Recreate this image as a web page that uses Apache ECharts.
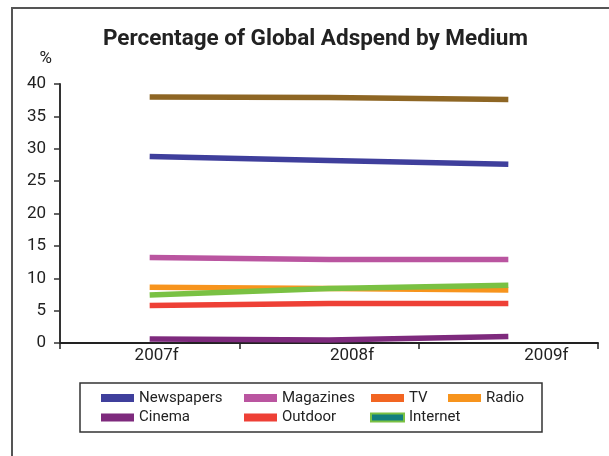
<!DOCTYPE html>
<html>
<head>
<meta charset="utf-8">
<script src="https://cdn.jsdelivr.net/npm/echarts@6/dist/echarts.min.js"></script>
<style>
  html, body { margin: 0; padding: 0; background: #fff; }
  #chart { width: 609px; height: 456px; }
</style>
</head>
<body>
<div id="chart"></div>
<script>
// Share of global advertising expenditure by medium (%)
const years = ['2007f', '2008f', '2009f'];
const newspapers = [28.8, 28.2, 27.6];
const magazines = [13.2, 12.9, 12.9];
const tv = [38.0, 37.9, 37.6];
const radio = [8.6, 8.4, 8.2];
const cinema = [0.6, 0.45, 1.0];
const outdoor = [5.8, 6.1, 6.1];
const internet = [7.4, 8.4, 8.9];
const yTicks = { min: 0, max: 40, step: 5 };

const FONT = 'Roboto, "Liberation Sans", Arial, sans-serif';

function lineSeries(name, data, color) {
  return {
    name: name,
    type: 'line',
    data: data,
    showSymbol: false,
    symbol: 'none',
    itemStyle: { color: color },
    lineStyle: { color: color, width: 5.5 },
    emphasis: { disabled: true },
    silent: true
  };
}

function legendColumn(left, items) {
  return {
    orient: 'vertical',
    left: left,
    top: 390,
    padding: 0,
    itemGap: 3.5,
    itemWidth: 33,
    itemHeight: 8,
    icon: 'rect',
    selectedMode: false,
    textStyle: { fontFamily: FONT, fontSize: 15, color: '#222', lineHeight: 16 },
    data: items
  };
}

const chart = echarts.init(document.getElementById('chart'), null, { renderer: 'canvas' });

chart.setOption({
  animation: false,
  backgroundColor: '#ffffff',
  title: {
    text: 'Percentage of Global Adspend by Medium',
    left: 103,
    top: 28,
    padding: 0,
    textStyle: { fontFamily: FONT, fontSize: 22.5, fontWeight: 'bold', color: '#222' }
  },
  grid: { left: 60, right: 11, top: 84, bottom: 113 },
  xAxis: {
    type: 'category',
    data: years,
    boundaryGap: true,
    axisLine: { lineStyle: { color: '#222', width: 2 } },
    axisTick: { show: true, length: 6, lineStyle: { color: '#222', width: 1.5 } },
    axisLabel: {
      margin: 4,
      color: '#222',
      fontFamily: FONT,
      fontSize: 17,
      formatter: function (v, i) { return '{c' + i + '|' + v + '}'; },
      rich: {
        c0: { fontFamily: FONT, fontSize: 17, color: '#222', padding: [0, 0, 0, 14] },
        c1: { fontFamily: FONT, fontSize: 17, color: '#222', padding: [0, 0, 0, 46] },
        c2: { fontFamily: FONT, fontSize: 17, color: '#222', padding: [0, 0, 0, 76] }
      }
    },
    splitLine: { show: false }
  },
  yAxis: {
    type: 'value',
    min: yTicks.min,
    max: yTicks.max,
    interval: yTicks.step,
    name: '%',
    nameLocation: 'end',
    nameGap: 17,
    nameTextStyle: { fontFamily: FONT, fontSize: 17, color: '#222', align: 'right', padding: [0, 8, 0, 0] },
    axisLine: { show: true, lineStyle: { color: '#333', width: 2 } },
    axisTick: { show: true, length: 6, lineStyle: { color: '#333', width: 1.5 } },
    axisLabel: { margin: 14, color: '#222', fontFamily: FONT, fontSize: 17 },
    splitLine: { show: false }
  },
  legend: [
    legendColumn(101, ['Newspapers', 'Cinema']),
    legendColumn(244, ['Magazines', 'Outdoor']),
    legendColumn(370, [
      { name: 'TV', itemStyle: { color: '#F26522' } },
      { name: 'Internet', itemStyle: { color: '#137F7E', borderColor: '#7AC143', borderWidth: 2 } }
    ]),
    legendColumn(448, ['Radio'])
  ],
  graphic: [
    {
      type: 'polyline',
      silent: true,
      shape: { points: [[12, 470], [12, 8], [620, 8]] },
      style: { stroke: '#555', lineWidth: 2, fill: null }
    },
    {
      type: 'rect',
      silent: true,
      shape: { x: 80, y: 383, width: 462, height: 49 },
      style: { stroke: '#333', lineWidth: 1.5, fill: null }
    }
  ],
  series: [
    lineSeries('Newspapers', newspapers, '#3F3F9C'),
    lineSeries('Magazines', magazines, '#BA55A0'),
    lineSeries('TV', tv, '#8E6624'),
    lineSeries('Radio', radio, '#F7941D'),
    lineSeries('Cinema', cinema, '#7E2A7D'),
    lineSeries('Outdoor', outdoor, '#EE4036'),
    lineSeries('Internet', internet, '#7AC143')
  ]
});
</script>
</body>
</html>
